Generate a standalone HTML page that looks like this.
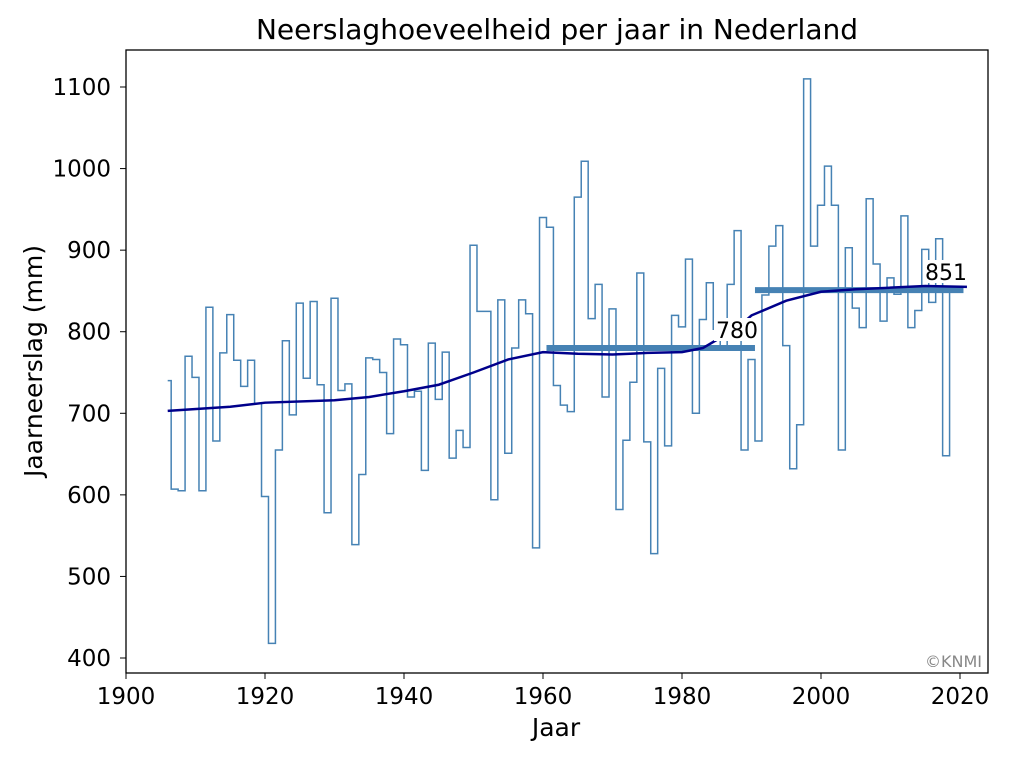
<!DOCTYPE html><html><head><meta charset="utf-8"><style>body{margin:0;background:#fff}svg{display:block}text{font-family:"DejaVu Sans","Liberation Sans",sans-serif}</style></head><body>
<svg id="s" width="1013" height="760" xmlns="http://www.w3.org/2000/svg"></svg>
<script>
const s=document.getElementById('s');
const X=y=>126+(y-1900)*6.95, Y=v=>658-(v-400)*0.8157;
const vals=[740,607,605,770,744,605,830,666,774,821,765,733,765,712,598,418,655,789,698,835,743,837,735,578,841,728,736,539,625,768,766,750,675,791,784,720,727,630,786,717,775,645,679,658,906,825,825,594,839,651,780,839,822,535,940,928,734,710,702,965,1009,816,858,720,828,582,667,738,872,665,528,755,660,820,806,889,700,815,860,803,780,858,924,655,766,666,845,905,930,783,632,686,1110,905,955,1003,955,655,903,829,805,963,883,813,866,846,942,805,826,901,836,914,648,851];
let h='';
let d='M'+X(1906)+','+Y(vals[0]);
for(let i=0;i<vals.length;i++){const yr=1906+i;const x0=i==0?X(yr):X(yr-0.5);const x1=i==vals.length-1?X(yr):X(yr+0.5);
 if(i>0)d+=' L'+x0+','+Y(vals[i]);d+=' L'+x1+','+Y(vals[i]);}
h+=`<path d="${d}" fill="none" stroke="#4682b4" stroke-width="1.5"/>`;
h+=`<line x1="${X(1960.5)}" x2="${X(1990.5)}" y1="${Y(780)}" y2="${Y(780)}" stroke="#4682b4" stroke-width="6"/>`;
h+=`<line x1="${X(1990.5)}" x2="${X(2020.5)}" y1="${Y(851)}" y2="${Y(851)}" stroke="#4682b4" stroke-width="6"/>`;
const tr=[[1906,703],[1915,708],[1920,713],[1930,716],[1935,720],[1940,727],[1945,735],[1950,750],[1955,766],[1960,775],[1965,773],[1970,772],[1975,774],[1980,775],[1983,780],[1985,790],[1988,805],[1990,820],[1995,838],[2000,849],[2005,852],[2010,854],[2015,856],[2021,855]];
h+=`<polyline points="${tr.map(p=>X(p[0])+','+Y(p[1])).join(' ')}" fill="none" stroke="#00008b" stroke-width="2.5"/>`;
h+=`<rect x="714" y="318" width="46" height="23" fill="#fff"/><text x="737" y="338" font-size="22" text-anchor="middle">780</text>`;
h+=`<rect x="923" y="260" width="46" height="23" fill="#fff"/><text x="946" y="280" font-size="22" text-anchor="middle">851</text>`;
h+=`<rect x="126" y="50" width="862" height="623" fill="none" stroke="#000" stroke-width="1.3"/>`;
for(let y=1900;y<=2020;y+=20){h+=`<line x1="${X(y)}" x2="${X(y)}" y1="673" y2="679" stroke="#000"/><text x="${X(y)}" y="704" font-size="23" text-anchor="middle">${y}</text>`;}
for(let v=400;v<=1100;v+=100){h+=`<line x1="120" x2="126" y1="${Y(v)}" y2="${Y(v)}" stroke="#000"/><text x="111" y="${Y(v)+8}" font-size="23" text-anchor="end">${v}</text>`;}
h+=`<text x="557" y="39" font-size="28" text-anchor="middle">Neerslaghoeveelheid per jaar in Nederland</text>`;
h+=`<text x="556" y="736" font-size="25" text-anchor="middle">Jaar</text>`;
h+=`<text transform="translate(42,361) rotate(-90)" font-size="25" text-anchor="middle">Jaarneerslag (mm)</text>`;
h+=`<text x="982" y="667" font-size="16" fill="#888" text-anchor="end">©KNMI</text>`;
s.innerHTML=h;
</script></body></html>
